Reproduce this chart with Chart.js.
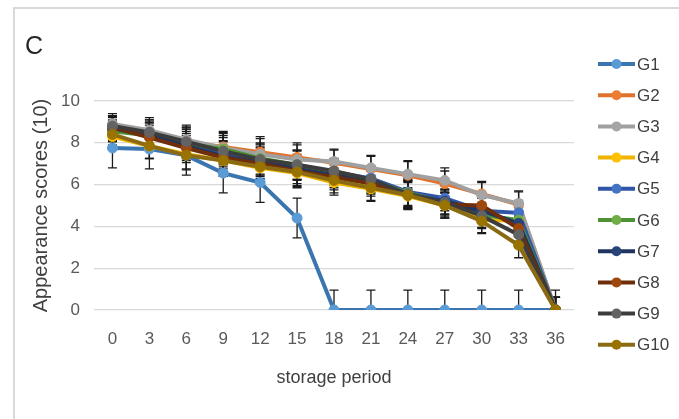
<!DOCTYPE html>
<html>
<head>
<meta charset="utf-8">
<script src="https://cdn.jsdelivr.net/npm/chart.js@4/dist/chart.umd.min.js"></script>
<style>
  body { margin: 0; background: #fff; }
  #wrap { position: relative; width: 679px; height: 419px; overflow: hidden; }
  #frame { position: absolute; left: 13px; top: 7px; width: 700px; height: 440px;
           border-left: 2px solid #d9d9d9; border-top: 2px solid #d9d9d9; }
  #graf { position: absolute; left: 0; top: 0; }
</style>
</head>
<body>
<div id="wrap">
  <div id="frame"></div>
  <canvas id="graf" width="679" height="419"></canvas>
</div>
<script>
"use strict";

const perioder = ["0", "3", "6", "9", "12", "15", "18", "21", "24", "27", "30", "33", "36"];
const navne = ["G1", "G2", "G3", "G4", "G5", "G6", "G7", "G8", "G9", "G10"];

const g1  = [7.75, 7.7, 7.4, 6.55, 6.1, 4.4, 0, 0, 0, 0, 0, 0, 0];
const g2  = [8.8, 8.5, 8.05, 7.8, 7.55, 7.3, 7.05, 6.75, 6.45, 6.05, 5.55, 5.05, 0];
const g3  = [8.9, 8.6, 8.15, 7.75, 7.45, 7.2, 7.1, 6.8, 6.5, 6.2, 5.5, 5.1, 0];
const g4  = [8.3, 7.85, 7.45, 7.15, 6.8, 6.55, 6.1, 5.8, 5.45, 5.0, 4.3, 4.3, 0];
const g5  = [8.6, 8.4, 7.95, 7.5, 7.15, 6.9, 6.6, 6.3, 5.65, 5.35, 4.75, 4.65, 0];
const g6  = [8.55, 8.35, 7.95, 7.7, 7.25, 6.95, 6.55, 6.2, 5.6, 5.15, 4.55, 4.3, 0];
const g7  = [8.7, 8.35, 7.85, 7.35, 7.05, 6.75, 6.45, 6.15, 5.5, 5.2, 4.75, 4.15, 0];
const g8  = [8.75, 8.25, 7.75, 7.3, 7.0, 6.65, 6.35, 6.05, 5.55, 5.05, 5.0, 3.9, 0];
const g9  = [8.8, 8.5, 8.05, 7.6, 7.2, 6.95, 6.65, 6.25, 5.55, 5.15, 4.5, 3.6, 0];
const g10 = [8.4, 7.85, 7.4, 7.15, 6.85, 6.6, 6.2, 5.85, 5.5, 5.0, 4.25, 3.1, 0];

// error bar half-lengths
const fejlG1     = [0.95, 0.95, 0.95, 0.95, 0.95, 0.95, 0.95, 0.95, 0.95, 0.95, 0.95, 0.95, 0.95];
const fejlOevrige = [0.5, 0.6, 0.7, 0.75, 0.75, 0.7, 0.6, 0.6, 0.65, 0.6, 0.6, 0.6, 0.6];

const serier = [g1, g2, g3, g4, g5, g6, g7, g8, g9, g10];
const linjeFarver  = ["#3a75b0", "#e0732c", "#a0a0a0", "#f0b400", "#2f55a4", "#4f9236", "#1f3560", "#6e2e0c", "#3c3c3c", "#8a6a12"];
const markoerFarver = ["#5b9bd5", "#ed7d31", "#a5a5a5", "#ffc000", "#4472c4", "#70ad47", "#264478", "#9e480e", "#636363", "#997300"];

const skrift = "'Liberation Sans', Arial, sans-serif";

// error bars, drawn under the lines
const fejlPlugin = {
  id: "fejlstreger",
  beforeDatasetsDraw(chart) {
    const ctx = chart.ctx, y = chart.scales.y, area = chart.chartArea;
    ctx.save();
    ctx.beginPath();
    ctx.rect(area.left, area.top, area.right - area.left, area.bottom - area.top);
    ctx.clip();
    ctx.strokeStyle = "#1a1a1a";
    ctx.lineWidth = 1.3;
    chart.data.datasets.forEach((ds, i) => {
      const meta = chart.getDatasetMeta(i);
      meta.data.forEach((p, j) => {
        const v = ds.data[j], e = ds.fejl[j];
        const top = y.getPixelForValue(v + e), bund = y.getPixelForValue(v - e);
        ctx.beginPath();
        ctx.moveTo(p.x, top); ctx.lineTo(p.x, bund);
        ctx.moveTo(p.x - 4.5, top); ctx.lineTo(p.x + 4.5, top);
        ctx.moveTo(p.x - 4.5, bund); ctx.lineTo(p.x + 4.5, bund);
        ctx.stroke();
      });
    });
    ctx.restore();
  }
};

// legend on the right, line with marker like the original
const legendePlugin = {
  id: "legende",
  afterDraw(chart) {
    const ctx = chart.ctx;
    ctx.save();
    ctx.font = "17px " + skrift;
    ctx.textBaseline = "middle";
    chart.data.datasets.forEach((ds, i) => {
      const yy = 64 + i * 31.2;
      ctx.strokeStyle = ds.borderColor;
      ctx.lineWidth = 4;
      ctx.beginPath(); ctx.moveTo(598, yy); ctx.lineTo(635, yy); ctx.stroke();
      ctx.beginPath(); ctx.arc(616.5, yy, 5, 0, Math.PI * 2);
      ctx.fillStyle = ds.pointBackgroundColor; ctx.fill();
      ctx.fillStyle = "#404040";
      ctx.fillText(ds.label, 637, yy + 1);
    });
    ctx.restore();
  }
};

new Chart(document.getElementById("graf").getContext("2d"), {
  type: "line",
  data: {
    labels: perioder,
    datasets: serier.map((s, i) => ({
      label: navne[i],
      data: s,
      fejl: i === 0 ? fejlG1 : fejlOevrige,
      borderColor: linjeFarver[i],
      backgroundColor: markoerFarver[i],
      pointBackgroundColor: markoerFarver[i],
      pointBorderColor: markoerFarver[i],
      borderWidth: 4,
      pointRadius: 5,
      pointBorderWidth: 1,
      tension: 0,
      order: serier.length - i
    }))
  },
  options: {
    responsive: false,
    animation: false,
    devicePixelRatio: 1,
    layout: { padding: { left: 25, right: 105, top: 8, bottom: 20 } },
    plugins: {
      legend: { display: false },
      tooltip: { enabled: false },
      title: {
        display: true, text: "C", align: "start", color: "#262626",
        font: { family: skrift, size: 25, weight: "normal" },
        padding: { top: 24, bottom: 39 }
      }
    },
    scales: {
      x: {
        offset: true,
        grid: { display: false, drawTicks: false },
        border: { display: false },
        ticks: { color: "#595959", padding: 19, font: { family: skrift, size: 17 } },
        title: { display: true, text: "storage period", color: "#404040",
                 font: { family: skrift, size: 18 }, padding: { top: 0, bottom: 10 } },
        afterFit(scale) { scale.height = 89; }
      },
      y: {
        min: 0, max: 10,
        ticks: { stepSize: 2, color: "#595959", padding: 14, font: { family: skrift, size: 17 } },
        grid: { color: "#d9d9d9", lineWidth: 1.3, drawTicks: false },
        border: { display: false },
        title: { display: true, text: "Appearance scores (10)", color: "#404040",
                 font: { family: skrift, size: 20 }, padding: { top: 4, bottom: 0 } },
        afterFit(scale) { scale.width = 69; }
      }
    }
  },
  plugins: [fejlPlugin, legendePlugin]
});
</script>
</body>
</html>
